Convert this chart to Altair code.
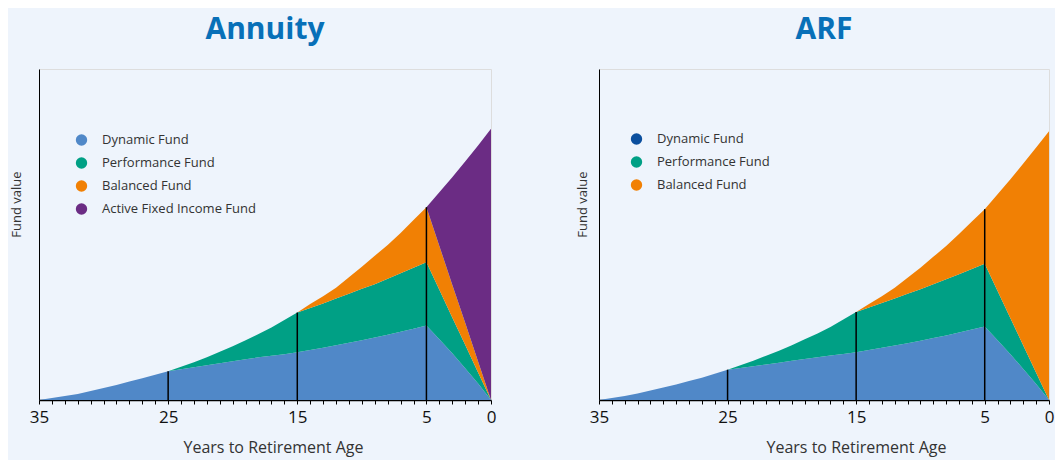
import altair as alt
import pandas as pd

# ---------------- data (one value per year) ----------------
years = list(range(35, -1, -1))  # 35 ... 0

# Annuity: upper edges of each band (fund value, arbitrary units)
ann_total = [0, 2, 4, 6, 9, 12, 15, 18.5, 22, 25.5, 29,
             33.5, 38, 43, 48.5, 54, 60, 66.5, 73, 80.5, 88,
             96.5, 104.5, 113, 123.5, 134, 145, 156, 168, 181, 194,
             209, 224, 240, 256, 273]
ann_dynamic_top = [0, 2, 4, 6, 9, 12, 15, 18.5, 22, 25.5, 29,
                   31, 33, 35, 37, 39, 41, 43, 44.5, 46, 48,
                   50.3, 52.6, 55, 57.5, 60, 62.8, 65.6, 68.6, 71.7, 75,
                   61, 47, 32, 16.5, 0]
ann_performance_top = [0, 2, 4, 6, 9, 12, 15, 18.5, 22, 25.5, 29,
                       33.5, 38, 43, 48.5, 54, 60, 66.5, 73, 80.5, 88,
                       92.5, 97, 102, 107, 112, 116.5, 122, 127.5, 133, 138.7,
                       111, 83, 55.5, 27.7, 0]
ann_balanced_top = [0, 2, 4, 6, 9, 12, 15, 18.5, 22, 25.5, 29,
                    33.5, 38, 43, 48.5, 54, 60, 66.5, 73, 80.5, 88,
                    96.5, 104.5, 113, 123.5, 134, 145, 156, 168, 181, 194,
                    155, 116, 77.6, 38.8, 0]

# ARF: upper edges of each band
arf_total = [0, 2, 4, 6.5, 9.5, 12.5, 15.5, 19, 22.5, 26.5, 30.5,
             35, 39.5, 44.5, 49.5, 55, 61, 67, 73.5, 81, 88.5,
             96.5, 104.5, 113, 123, 133, 144, 155, 167, 179.5, 192,
             207, 222, 238, 254, 270.5]
arf_dynamic_top = [0, 2, 4, 6.5, 9.5, 12.5, 15.5, 19, 22.5, 26.5, 30.5,
                   32.2, 34, 35.8, 37.6, 39.4, 41.2, 43, 44.7, 46.3, 48,
                   50.2, 52.5, 54.8, 57.2, 59.7, 62.3, 65, 67.9, 70.9, 74,
                   60, 46, 31.3, 16, 0]
arf_performance_top = [0, 2, 4, 6.5, 9.5, 12.5, 15.5, 19, 22.5, 26.5, 30.5,
                       35, 39.5, 44.5, 49.5, 55, 61, 67, 73.5, 81, 88.5,
                       93, 97.5, 102, 106.8, 111.5, 116.5, 121.5, 126.5, 131.7, 137,
                       109.6, 82.2, 54.8, 27.4, 0]

rule_years = [25, 15, 5]
ann_rule_tops = [29, 88, 194]
arf_rule_tops = [30.5, 88.5, 192]

tick_values = list(range(0, 36))

ann_funds = ["Dynamic Fund", "Performance Fund", "Balanced Fund", "Active Fixed Income Fund"]
arf_funds = ["Dynamic Fund", "Performance Fund", "Balanced Fund"]

ann_area_colors = ["#5088C8", "#00A085", "#F18004", "#6B2C84"]
ann_legend_colors = ["#5088C8", "#00A085", "#F18004", "#6B2C84"]
arf_area_colors = ["#5088C8", "#00A085", "#F18004"]
arf_legend_colors = ["#0B4F9E", "#00A085", "#F18004"]

FONT = "Open Sans"
YMAX = 333
PLOT_H = 331


def panel(title, funds, edges, area_colors, legend_colors, rule_tops,
          w, ytitle_x, ytitle_y, xtitle_x, legend_x, legend_y):
    # edges: upper edges, bottom band first; lower edge of band i is edge i-1 (or 0)
    rows = []
    for i, f in enumerate(funds):
        hi = edges[i]
        lo = edges[i - 1] if i > 0 else [0] * len(years)
        for yr, a, b in zip(years, lo, hi):
            rows.append({"years": yr, "fund": f, "lo": a, "hi": b})
    df = pd.DataFrame(rows)

    xaxis = alt.Axis(
        values=tick_values,
        labelExpr="(datum.value % 10 == 5 || datum.value == 0) ? datum.label : ''",
        labelOverlap=False, labelFlush=False,
        tickSize=4, tickColor="black", tickWidth=1,
        domainColor="black", domainWidth=1.5,
        labelFontSize=17, labelColor="#111", labelPadding=5, labelFont=FONT,
        grid=False,
        title="Years to Retirement Age", titleFontSize=16, titleFontWeight="normal",
        titleColor="#333", titlePadding=14, titleFont=FONT, titleX=xtitle_x,
    )
    yaxis = alt.Axis(
        labels=False, ticks=False, grid=False,
        domainColor="black", domainWidth=1,
        title="Fund value", titleFontSize=13, titleFontWeight="normal",
        titleColor="#333", titleFont=FONT,
        titleX=ytitle_x, titleY=ytitle_y, titleAngle=270,
        titleAlign="center", titleBaseline="middle",
    )
    xscale = alt.Scale(domain=[0, 35], reverse=True, nice=False, zero=False)
    yscale = alt.Scale(domain=[0, YMAX], nice=False)

    area = alt.Chart(df).mark_area(interpolate="linear", strokeWidth=0).encode(
        x=alt.X("years:Q", scale=xscale, axis=xaxis),
        y=alt.Y("hi:Q", scale=yscale, axis=yaxis),
        y2="lo:Q",
        color=alt.Color("fund:N", scale=alt.Scale(domain=funds, range=area_colors), legend=None),
        detail="fund:N",
    )

    rdf = pd.DataFrame({"years": rule_years, "top": rule_tops})
    rules = alt.Chart(rdf).mark_rule(color="black", strokeWidth=1.5).encode(
        x=alt.X("years:Q", scale=xscale, axis=xaxis),
        y=alt.Y("top:Q", scale=yscale, axis=yaxis),
        y2=alt.datum(0),
    )

    ldf = pd.DataFrame({"fund": funds})
    legend = alt.Chart(ldf).transform_filter("false").mark_circle(opacity=1, size=120).encode(
        color=alt.Color(
            "fund:N",
            scale=alt.Scale(domain=funds, range=legend_colors),
            legend=alt.Legend(
                title=None, orient="none", legendX=legend_x, legendY=legend_y,
                symbolType="circle", symbolSize=130, symbolStrokeWidth=0, symbolOpacity=1,
                labelFontSize=13, labelColor="#333", labelFont=FONT, labelOffset=14,
                rowPadding=9, padding=0,
            ),
        )
    )

    return alt.layer(area, rules, legend).resolve_scale(color="independent").properties(
        width=w, height=PLOT_H,
        title=alt.TitleParams(
            text=title, fontSize=30, font=FONT, fontWeight="bold", color="#0870B8",
            anchor="middle", offset=24,
        ),
    )


left = panel("Annuity", ann_funds,
             [ann_dynamic_top, ann_performance_top, ann_balanced_top, ann_total],
             ann_area_colors, ann_legend_colors, ann_rule_tops,
             452, -23, 135, 234, 36, 64.5)
right = panel("ARF", arf_funds,
              [arf_dynamic_top, arf_performance_top, arf_total],
              arf_area_colors, arf_legend_colors, arf_rule_tops,
              450, -17, 135, 257, 31, 63.5)

chart = alt.hconcat(left, right, spacing=78).properties(
    padding={"left": 1, "top": 6, "right": 0, "bottom": 4},
    background="#EEF4FC",
).configure_view(strokeWidth=0).configure(font=FONT)

chart.save("out.html", embed_options={"renderer": "svg", "actions": False})
